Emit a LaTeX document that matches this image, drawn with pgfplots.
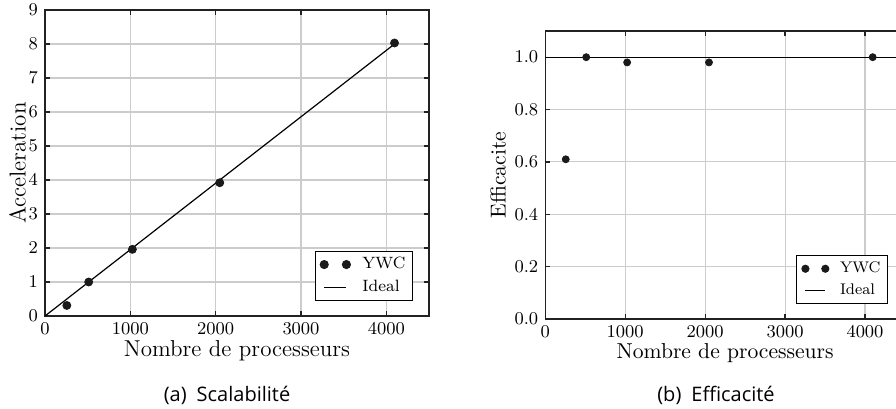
\documentclass[border=0pt]{standalone}
\usepackage{fontspec}
\usepackage{pgfplots}
\pgfplotsset{compat=1.18}
\newfontfamily\capfont{Open Sans}
\definecolor{frame}{HTML}{222222}
\definecolor{gridc}{HTML}{CCCCCC}
\definecolor{mk}{HTML}{1A1A1A}
\pgfplotsset{
  mystyle/.style={
    scale only axis,
    axis line style={draw=frame, line width=0.8pt},
    grid=major,
    major grid style={draw=gridc, line width=0.55pt},
    tick align=inside,
    major tick length=2.5pt,
    tick style={draw=frame, line width=0.6pt},
    xmin=0, xmax=4500,
    xtick={0,1000,2000,3000,4000},
    /pgf/number format/1000 sep={},
    xlabel={Nombre de processeurs},
    xlabel style={yshift=4pt},
    legend cell align=left,
    legend style={draw=black, line width=0.55pt, anchor=south east,
      inner xsep=2.5pt, inner ysep=1pt, row sep=0pt, column sep=5pt,
      nodes={inner xsep=1pt, inner ysep=2pt, text height=5.8pt, text depth=1.5pt}},
  },
  ywc/.style={only marks, mark=*, mark options={fill=mk, draw=mk}, color=mk,
    legend image code/.code={\draw[##1] plot coordinates {(0cm,0cm) (#1,0cm)};}},
  ideal/.style={black, line width=0.6pt, no marks,
    legend image code/.code={\draw[##1] (0cm,0cm) -- (#1,0cm);}},
}
\begin{document}
\begin{tikzpicture}
\begin{axis}[mystyle,
  at={(22.5pt,46pt)}, anchor=south west,
  width=192pt, height=153pt,
  ymin=0, ymax=9, ytick={0,1,...,9},
  ylabel={Acceleration},
  ylabel style={yshift=-5.5pt},
  ticklabel style={font=\fontsize{9.5}{11}\selectfont},
  label style={font=\fontsize{11.5}{13}\selectfont},
  legend style={at={(axis description cs:1,0)}, xshift=-8pt, yshift=7.5pt,
    font=\fontsize{8.2}{9.5}\selectfont},
]
\addplot[ywc=0.39cm, mark size=2pt] coordinates {
  (256,0.31) (512,1.0) (1024,1.96) (2048,3.92) (4096,8.03)
};
\addlegendentry{YWC}
\addplot[ideal=0.39cm] coordinates {
  (0,0) (256,0.5) (512,1) (1024,2) (2048,4) (4096,8)
};
\addlegendentry{Ideal}
\end{axis}
\begin{axis}[mystyle,
  at={(272.65pt,44.5pt)}, anchor=south west,
  width=179.85pt, height=144pt,
  ymin=0, ymax=1.1, ytick={0,0.2,0.4,0.6,0.8,1.0},
  yticklabel style={/pgf/number format/.cd, fixed, fixed zerofill, precision=1},
  ylabel={Efficacite},
  ylabel style={yshift=-2.5pt},
  ticklabel style={font=\fontsize{9}{10}\selectfont},
  label style={font=\fontsize{10.8}{12}\selectfont},
  legend style={at={(axis description cs:1,0)}, xshift=-8.5pt, yshift=7.5pt,
    font=\fontsize{7.7}{9}\selectfont, column sep=4.6pt,
    nodes={inner ysep=2pt, text height=5.5pt, text depth=1.4pt}},
]
\addplot[ywc=0.35cm, mark size=1.75pt] coordinates {
  (256,0.61) (512,1.0) (1024,0.98) (2048,0.98) (4096,1.0)
};
\addlegendentry{YWC}
\addplot[ideal=0.35cm] coordinates {
  (0,1) (4500,1)
};
\addlegendentry{Ideal}
\end{axis}
\node[font=\capfont\fontsize{10}{12}\selectfont] at (113.5pt,6.5pt) {(a)\enspace Scalabilité};
\node[font=\capfont\fontsize{10}{12}\selectfont] at (358pt,6.5pt) {(b)\enspace Efficacité};
\pgfresetboundingbox
\useasboundingbox (0,0) rectangle (448pt,204pt);
\end{tikzpicture}
\end{document}
